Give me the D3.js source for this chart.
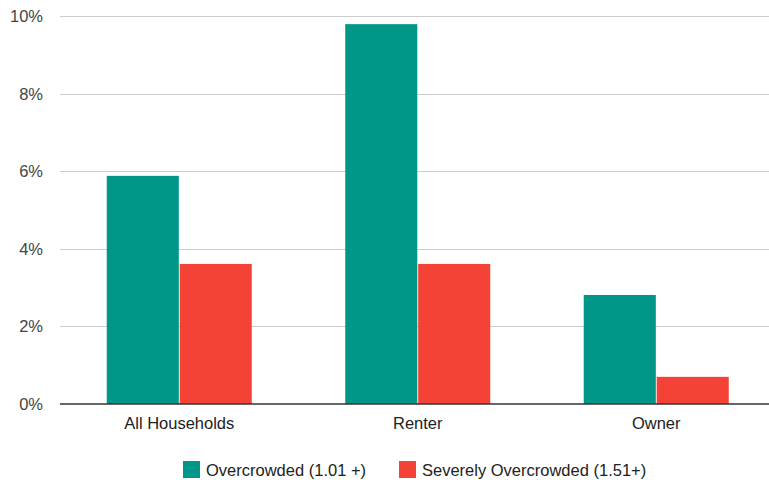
<!DOCTYPE html>
<html>
<head>
<meta charset="utf-8">
<script src="https://cdn.jsdelivr.net/npm/d3@7"></script>
<style>
  html, body { margin: 0; padding: 0; background: #fff; }
  svg { display: block; font-family: Arial, "Liberation Sans", sans-serif; }
</style>
</head>
<body>
<svg id="chart" width="769" height="480"></svg>
<script>
const categories = ["All Households", "Renter", "Owner"];
const seriesNames = ["Overcrowded (1.01 +)", "Severely Overcrowded (1.51+)"];
const overcrowded = [5.88, 9.79, 2.81];
const severelyOvercrowded = [3.61, 3.61, 0.70];
const yTicks = [0, 2, 4, 6, 8, 10];
const colors = ["#009688", "#f44336"];

(function () {
const seriesValues = [overcrowded, severelyOvercrowded];
const svg = d3.select("#chart");
const W = 769;
const plotLeft = 60, plotRight = 775.5, plotTop = 16, plotBottom = 404;

const y = d3.scaleLinear().domain([0, 10]).range([plotBottom, plotTop]);
const x0 = d3.scaleBand().domain(categories).range([plotLeft, plotRight])
  .paddingInner(0.392).paddingOuter(0.196);
const x1 = d3.scaleBand().domain(seriesNames).range([0, x0.bandwidth()]).paddingInner(0.012);

// gridlines
svg.append("g").selectAll("line").data(yTicks.filter(d => d !== 0)).join("line")
  .attr("x1", plotLeft).attr("x2", W)
  .attr("y1", d => Math.round(y(d)) + 0.5).attr("y2", d => Math.round(y(d)) + 0.5)
  .attr("stroke", "#cccccc").attr("stroke-width", 1);

// y tick labels
svg.append("g").selectAll("text").data(yTicks).join("text")
  .attr("x", 43).attr("y", d => y(d)).attr("dy", "0.36em")
  .attr("text-anchor", "end").attr("fill", "#444").attr("font-size", "16.5px")
  .text(d => d + "%");

// bars
const groups = svg.append("g").selectAll("g").data(categories).join("g")
  .attr("transform", d => `translate(${x0(d)},0)`);
groups.selectAll("rect").data((c, i) => seriesNames.map((s, j) => ({ s, v: seriesValues[j][i], j })))
  .join("rect")
  .attr("x", d => x1(d.s)).attr("width", x1.bandwidth())
  .attr("y", d => y(d.v)).attr("height", d => y(0) - y(d.v))
  .attr("fill", d => colors[d.j]);

// baseline
svg.append("line").attr("x1", plotLeft).attr("x2", W)
  .attr("y1", y(0)).attr("y2", y(0))
  .attr("stroke", "#333").attr("stroke-width", 1.6);

// category labels
svg.append("g").selectAll("text").data(categories).join("text")
  .attr("x", d => x0(d) + x0.bandwidth() / 2).attr("y", 429)
  .attr("text-anchor", "middle").attr("fill", "#222").attr("font-size", "16.5px")
  .text(d => d);

// legend
const legendX = [183, 399];
const lg = svg.append("g").selectAll("g").data(seriesNames).join("g")
  .attr("transform", (d, i) => `translate(${legendX[i]},461)`);
lg.append("rect").attr("width", 17).attr("height", 17).attr("fill", (d, i) => colors[i]);
lg.append("text").attr("x", 23).attr("y", 15).attr("fill", "#222").attr("font-size", "16.5px")
  .text(d => d);
})();
</script>
</body>
</html>
